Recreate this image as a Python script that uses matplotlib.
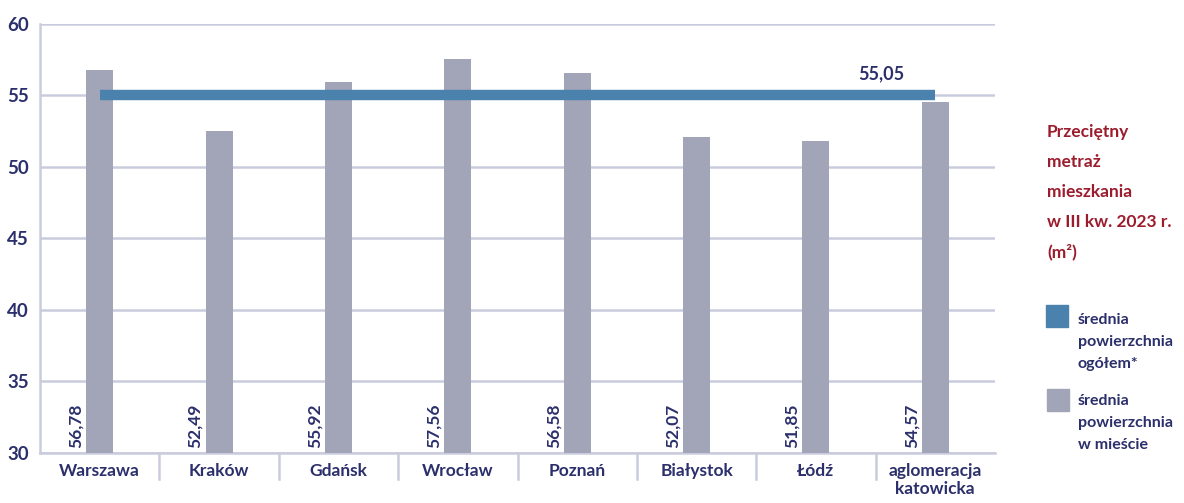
import matplotlib
matplotlib.use("Agg")
import matplotlib.pyplot as plt
from matplotlib.patches import Rectangle

categories = ["Warszawa", "Kraków", "Gdańsk", "Wrocław", "Poznań", "Białystok", "Łódź", "aglomeracja\nkatowicka"]
values = [56.78, 52.49, 55.92, 57.56, 56.58, 52.07, 51.85, 54.57]
average = 55.05
yticks = [30, 35, 40, 45, 50, 55, 60]

NAVY = "#2b2f6b"
RED = "#9b1c2c"
BAR = "#a2a4b7"
LINE = "#4a82ad"
GRID = "#c9ccdd"
FONT = "Lato"

fig = plt.figure(figsize=(11.84, 5.03), dpi=100)
ax = fig.add_axes([40/1184, 50/503, 955/1184, 429/503])
n = len(categories)
x = list(range(n))
ax.bar(x, [v - 30 for v in values], bottom=30, width=0.226, color=BAR, zorder=3)
ax.plot([x[0], x[-1]], [average, average], color=LINE, lw=7.5, solid_capstyle="butt", zorder=4)
ax.text(x[-1] - 0.45, average + 0.9, f"{average:.2f}".replace(".", ","), ha="center", va="bottom",
        color=NAVY, fontsize=13, fontfamily=FONT, fontweight="bold")

for xi, v in zip(x, values):
    ax.text(xi - 0.2, 30.35, f"{v:.2f}".replace(".", ","), rotation=90, ha="center", va="bottom",
            color=NAVY, fontsize=12.5, fontfamily=FONT, fontweight="bold", zorder=5)

ax.set_xlim(-0.5, n - 0.5)
ax.set_ylim(30, 60)
ax.set_yticks(yticks)
ax.set_yticklabels([str(t) for t in yticks], color=NAVY, fontsize=13.5, fontfamily=FONT, fontweight="bold")
ax.yaxis.grid(True, color=GRID, lw=1.8, zorder=0)
ax.set_axisbelow(True)
ax.tick_params(axis="y", length=0, pad=8)
ax.set_xticks(x)
ax.set_xticklabels(categories, color=NAVY, fontsize=12.5, fontfamily=FONT, fontweight="bold", linespacing=1.2)
ax.tick_params(axis="x", length=0, pad=7)
for b in [i - 0.5 for i in range(1, n)]:
    ax.plot([b, b], [30, 28.2], color=GRID, lw=1.8, clip_on=False, zorder=1)
for s in ["top", "right"]:
    ax.spines[s].set_visible(False)
ax.spines["left"].set_color(GRID)
ax.spines["left"].set_linewidth(1.8)
ax.spines["bottom"].set_color(GRID)
ax.spines["bottom"].set_linewidth(1.8)

# title block
title_lines = ["Przeciętny", "metraż", "mieszkania", "w III kw. 2023 r.", "(m²)"]
for i, t in enumerate(title_lines):
    fig.text(1047/1184, 1 - (132 + 30*i)/503, t, ha="left", va="center", color=RED,
             fontsize=12.5, fontfamily=FONT, fontweight="bold")

# legend
fig.patches.append(Rectangle((1046/1184, 1 - 327/503), 22/1184, 22/503, transform=fig.transFigure,
                             color=LINE, figure=fig))
fig.patches.append(Rectangle((1047/1184, 1 - 411/503), 22/1184, 22/503, transform=fig.transFigure,
                             color=BAR, figure=fig))
for i, t in enumerate(["średnia", "powierzchnia", "ogółem*"]):
    fig.text(1078/1184, 1 - (320 + 22*i)/503, t, ha="left", va="center", color=NAVY,
             fontsize=11.5, fontfamily=FONT, fontweight="bold")
for i, t in enumerate(["średnia", "powierzchnia", "w mieście"]):
    fig.text(1078/1184, 1 - (401 + 22*i)/503, t, ha="left", va="center", color=NAVY,
             fontsize=11.5, fontfamily=FONT, fontweight="bold")

fig.savefig("out.png", dpi=100)
